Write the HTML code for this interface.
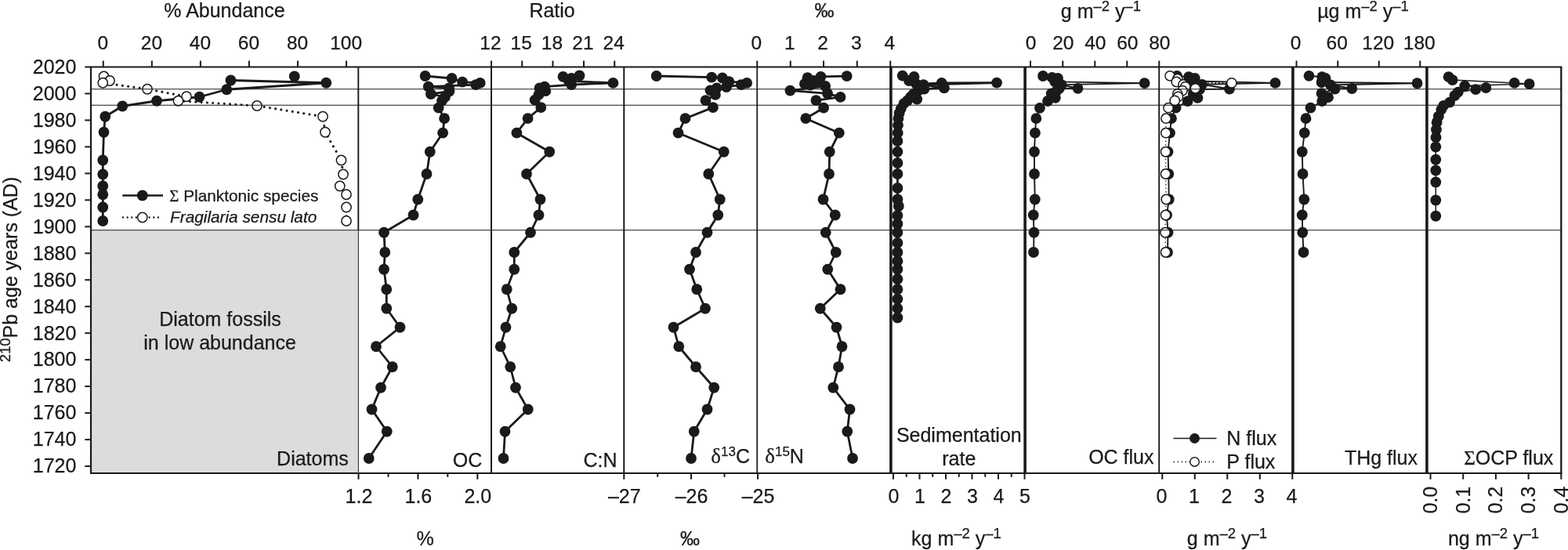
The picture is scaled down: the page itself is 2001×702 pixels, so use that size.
<!DOCTYPE html>
<html lang="en">
<head>
<meta charset="utf-8">
<title>Sediment core profiles</title>
<style>
html,body{margin:0;padding:0;background:#fff;}
body{width:2001px;height:702px;overflow:hidden;}
svg{display:block;}
svg text{stroke:#1a1a1a;stroke-width:0.25px;stroke-linejoin:round;}
</style>
</head>
<body>
<svg width="2001" height="702" viewBox="0 0 2001 702" font-family='"Liberation Sans", sans-serif' fill="#1a1a1a">
<rect x="0" y="0" width="2001" height="702" fill="#fff"/>
<rect x="116.0" y="293.75" width="341.30" height="310.15" fill="#dcdcdc"/>
<line x1="115.00" y1="85.50" x2="1993.30" y2="85.50" stroke="#1a1a1a" stroke-width="2"/>
<line x1="115.00" y1="603.90" x2="1993.30" y2="603.90" stroke="#1a1a1a" stroke-width="2"/>
<line x1="116.00" y1="85.50" x2="116.00" y2="603.90" stroke="#1a1a1a" stroke-width="2.2"/>
<line x1="1992.30" y1="85.50" x2="1992.30" y2="603.90" stroke="#1a1a1a" stroke-width="2.3"/>
<line x1="457.30" y1="85.50" x2="457.30" y2="293.75" stroke="#1a1a1a" stroke-width="1.9"/>
<line x1="457.40" y1="293.75" x2="457.40" y2="603.90" stroke="#4a4a4a" stroke-width="1.3"/>
<line x1="627.00" y1="85.50" x2="627.00" y2="603.90" stroke="#1a1a1a" stroke-width="2"/>
<line x1="796.30" y1="85.50" x2="796.30" y2="603.90" stroke="#1a1a1a" stroke-width="2"/>
<line x1="966.20" y1="85.50" x2="966.20" y2="603.90" stroke="#1a1a1a" stroke-width="1.7"/>
<line x1="1136.90" y1="85.50" x2="1136.90" y2="603.90" stroke="#1a1a1a" stroke-width="3.6"/>
<line x1="1308.10" y1="85.50" x2="1308.10" y2="603.90" stroke="#1a1a1a" stroke-width="3.6"/>
<line x1="1479.20" y1="85.50" x2="1479.20" y2="603.90" stroke="#1a1a1a" stroke-width="1.9"/>
<line x1="1649.90" y1="85.50" x2="1649.90" y2="603.90" stroke="#1a1a1a" stroke-width="3.6"/>
<line x1="1820.90" y1="85.50" x2="1820.90" y2="603.90" stroke="#1a1a1a" stroke-width="3.6"/>
<line x1="108.30" y1="595.05" x2="116.00" y2="595.05" stroke="#1a1a1a" stroke-width="2"/>
<text x="97.40" y="603.35" text-anchor="end" font-size="25">1720</text>
<line x1="108.30" y1="561.08" x2="116.00" y2="561.08" stroke="#1a1a1a" stroke-width="2"/>
<text x="97.40" y="569.38" text-anchor="end" font-size="25">1740</text>
<line x1="108.30" y1="527.11" x2="116.00" y2="527.11" stroke="#1a1a1a" stroke-width="2"/>
<text x="97.40" y="535.41" text-anchor="end" font-size="25">1760</text>
<line x1="108.30" y1="493.14" x2="116.00" y2="493.14" stroke="#1a1a1a" stroke-width="2"/>
<text x="97.40" y="501.44" text-anchor="end" font-size="25">1780</text>
<line x1="108.30" y1="459.17" x2="116.00" y2="459.17" stroke="#1a1a1a" stroke-width="2"/>
<text x="97.40" y="467.47" text-anchor="end" font-size="25">1800</text>
<line x1="108.30" y1="425.20" x2="116.00" y2="425.20" stroke="#1a1a1a" stroke-width="2"/>
<text x="97.40" y="433.50" text-anchor="end" font-size="25">1820</text>
<line x1="108.30" y1="391.23" x2="116.00" y2="391.23" stroke="#1a1a1a" stroke-width="2"/>
<text x="97.40" y="399.53" text-anchor="end" font-size="25">1840</text>
<line x1="108.30" y1="357.26" x2="116.00" y2="357.26" stroke="#1a1a1a" stroke-width="2"/>
<text x="97.40" y="365.56" text-anchor="end" font-size="25">1860</text>
<line x1="108.30" y1="323.29" x2="116.00" y2="323.29" stroke="#1a1a1a" stroke-width="2"/>
<text x="97.40" y="331.59" text-anchor="end" font-size="25">1880</text>
<line x1="108.30" y1="289.32" x2="116.00" y2="289.32" stroke="#1a1a1a" stroke-width="2"/>
<text x="97.40" y="297.62" text-anchor="end" font-size="25">1900</text>
<line x1="108.30" y1="255.35" x2="116.00" y2="255.35" stroke="#1a1a1a" stroke-width="2"/>
<text x="97.40" y="263.65" text-anchor="end" font-size="25">1920</text>
<line x1="108.30" y1="221.38" x2="116.00" y2="221.38" stroke="#1a1a1a" stroke-width="2"/>
<text x="97.40" y="229.68" text-anchor="end" font-size="25">1940</text>
<line x1="108.30" y1="187.41" x2="116.00" y2="187.41" stroke="#1a1a1a" stroke-width="2"/>
<text x="97.40" y="195.71" text-anchor="end" font-size="25">1960</text>
<line x1="108.30" y1="153.44" x2="116.00" y2="153.44" stroke="#1a1a1a" stroke-width="2"/>
<text x="97.40" y="161.74" text-anchor="end" font-size="25">1980</text>
<line x1="108.30" y1="119.47" x2="116.00" y2="119.47" stroke="#1a1a1a" stroke-width="2"/>
<text x="97.40" y="127.77" text-anchor="end" font-size="25">2000</text>
<line x1="108.30" y1="85.50" x2="116.00" y2="85.50" stroke="#1a1a1a" stroke-width="2"/>
<text x="97.40" y="93.80" text-anchor="end" font-size="25">2020</text>
<text transform="translate(21.8,462.3) rotate(-90)" font-size="25"><tspan font-size="18.5" dy="-8.5">210</tspan><tspan dy="8.5">Pb age years (AD)</tspan></text>
<line x1="131.75" y1="77.50" x2="131.75" y2="85.50" stroke="#1a1a1a" stroke-width="2"/>
<text x="131.35" y="63.30" text-anchor="middle" font-size="24.5">0</text>
<line x1="193.80" y1="77.50" x2="193.80" y2="85.50" stroke="#1a1a1a" stroke-width="2"/>
<text x="193.40" y="63.30" text-anchor="middle" font-size="24.5">20</text>
<line x1="255.85" y1="77.50" x2="255.85" y2="85.50" stroke="#1a1a1a" stroke-width="2"/>
<text x="255.45" y="63.30" text-anchor="middle" font-size="24.5">40</text>
<line x1="317.90" y1="77.50" x2="317.90" y2="85.50" stroke="#1a1a1a" stroke-width="2"/>
<text x="317.50" y="63.30" text-anchor="middle" font-size="24.5">60</text>
<line x1="379.95" y1="77.50" x2="379.95" y2="85.50" stroke="#1a1a1a" stroke-width="2"/>
<text x="379.55" y="63.30" text-anchor="middle" font-size="24.5">80</text>
<line x1="442.00" y1="77.50" x2="442.00" y2="85.50" stroke="#1a1a1a" stroke-width="2"/>
<text x="441.60" y="63.30" text-anchor="middle" font-size="24.5">100</text>
<line x1="627.00" y1="77.50" x2="627.00" y2="85.50" stroke="#1a1a1a" stroke-width="2"/>
<text x="626.00" y="63.30" text-anchor="middle" font-size="24.5">12</text>
<line x1="666.25" y1="77.50" x2="666.25" y2="85.50" stroke="#1a1a1a" stroke-width="2"/>
<text x="665.25" y="63.30" text-anchor="middle" font-size="24.5">15</text>
<line x1="705.50" y1="77.50" x2="705.50" y2="85.50" stroke="#1a1a1a" stroke-width="2"/>
<text x="704.50" y="63.30" text-anchor="middle" font-size="24.5">18</text>
<line x1="745.00" y1="77.50" x2="745.00" y2="85.50" stroke="#1a1a1a" stroke-width="2"/>
<text x="744.00" y="63.30" text-anchor="middle" font-size="24.5">21</text>
<line x1="784.25" y1="77.50" x2="784.25" y2="85.50" stroke="#1a1a1a" stroke-width="2"/>
<text x="783.25" y="63.30" text-anchor="middle" font-size="24.5">24</text>
<line x1="966.25" y1="77.50" x2="966.25" y2="85.50" stroke="#1a1a1a" stroke-width="2"/>
<text x="965.25" y="63.30" text-anchor="middle" font-size="24.5">0</text>
<line x1="1008.75" y1="77.50" x2="1008.75" y2="85.50" stroke="#1a1a1a" stroke-width="2"/>
<text x="1007.75" y="63.30" text-anchor="middle" font-size="24.5">1</text>
<line x1="1051.00" y1="77.50" x2="1051.00" y2="85.50" stroke="#1a1a1a" stroke-width="2"/>
<text x="1050.00" y="63.30" text-anchor="middle" font-size="24.5">2</text>
<line x1="1093.75" y1="77.50" x2="1093.75" y2="85.50" stroke="#1a1a1a" stroke-width="2"/>
<text x="1092.75" y="63.30" text-anchor="middle" font-size="24.5">3</text>
<line x1="1136.25" y1="77.50" x2="1136.25" y2="85.50" stroke="#1a1a1a" stroke-width="2"/>
<text x="1135.25" y="63.30" text-anchor="middle" font-size="24.5">4</text>
<line x1="1315.00" y1="77.50" x2="1315.00" y2="85.50" stroke="#1a1a1a" stroke-width="2"/>
<text x="1315.60" y="63.30" text-anchor="middle" font-size="24.5">0</text>
<line x1="1356.25" y1="77.50" x2="1356.25" y2="85.50" stroke="#1a1a1a" stroke-width="2"/>
<text x="1356.85" y="63.30" text-anchor="middle" font-size="24.5">20</text>
<line x1="1397.25" y1="77.50" x2="1397.25" y2="85.50" stroke="#1a1a1a" stroke-width="2"/>
<text x="1397.85" y="63.30" text-anchor="middle" font-size="24.5">40</text>
<line x1="1438.25" y1="77.50" x2="1438.25" y2="85.50" stroke="#1a1a1a" stroke-width="2"/>
<text x="1438.85" y="63.30" text-anchor="middle" font-size="24.5">60</text>
<line x1="1479.25" y1="77.50" x2="1479.25" y2="85.50" stroke="#1a1a1a" stroke-width="2"/>
<text x="1479.85" y="63.30" text-anchor="middle" font-size="24.5">80</text>
<line x1="1654.50" y1="77.50" x2="1654.50" y2="85.50" stroke="#1a1a1a" stroke-width="2"/>
<text x="1653.50" y="63.30" text-anchor="middle" font-size="24.5">0</text>
<line x1="1707.25" y1="77.50" x2="1707.25" y2="85.50" stroke="#1a1a1a" stroke-width="2"/>
<text x="1706.25" y="63.30" text-anchor="middle" font-size="24.5">60</text>
<line x1="1759.75" y1="77.50" x2="1759.75" y2="85.50" stroke="#1a1a1a" stroke-width="2"/>
<text x="1758.75" y="63.30" text-anchor="middle" font-size="24.5">120</text>
<line x1="1812.25" y1="77.50" x2="1812.25" y2="85.50" stroke="#1a1a1a" stroke-width="2"/>
<text x="1811.25" y="63.30" text-anchor="middle" font-size="24.5">180</text>
<line x1="457.50" y1="603.90" x2="457.50" y2="611.80" stroke="#1a1a1a" stroke-width="2"/>
<text x="458.00" y="641.50" text-anchor="middle" font-size="25">1.2</text>
<line x1="533.40" y1="603.90" x2="533.40" y2="611.80" stroke="#1a1a1a" stroke-width="2"/>
<text x="533.90" y="641.50" text-anchor="middle" font-size="25">1.6</text>
<line x1="609.30" y1="603.90" x2="609.30" y2="611.80" stroke="#1a1a1a" stroke-width="2"/>
<text x="609.80" y="641.50" text-anchor="middle" font-size="25">2.0</text>
<line x1="495.50" y1="603.90" x2="495.50" y2="608.80" stroke="#1a1a1a" stroke-width="2"/>
<line x1="571.30" y1="603.90" x2="571.30" y2="608.80" stroke="#1a1a1a" stroke-width="2"/>
<line x1="796.30" y1="603.90" x2="796.30" y2="611.80" stroke="#1a1a1a" stroke-width="2"/>
<text x="796.80" y="641.50" text-anchor="middle" font-size="25">–27</text>
<line x1="882.00" y1="603.90" x2="882.00" y2="611.80" stroke="#1a1a1a" stroke-width="2"/>
<text x="882.50" y="641.50" text-anchor="middle" font-size="25">–26</text>
<line x1="967.00" y1="603.90" x2="967.00" y2="611.80" stroke="#1a1a1a" stroke-width="2"/>
<text x="967.50" y="641.50" text-anchor="middle" font-size="25">–25</text>
<line x1="839.20" y1="603.90" x2="839.20" y2="608.80" stroke="#1a1a1a" stroke-width="2"/>
<line x1="924.50" y1="603.90" x2="924.50" y2="608.80" stroke="#1a1a1a" stroke-width="2"/>
<line x1="1140.00" y1="603.90" x2="1140.00" y2="611.80" stroke="#1a1a1a" stroke-width="2"/>
<text x="1140.50" y="641.50" text-anchor="middle" font-size="25">0</text>
<line x1="1173.50" y1="603.90" x2="1173.50" y2="611.80" stroke="#1a1a1a" stroke-width="2"/>
<text x="1174.00" y="641.50" text-anchor="middle" font-size="25">1</text>
<line x1="1207.00" y1="603.90" x2="1207.00" y2="611.80" stroke="#1a1a1a" stroke-width="2"/>
<text x="1207.50" y="641.50" text-anchor="middle" font-size="25">2</text>
<line x1="1240.50" y1="603.90" x2="1240.50" y2="611.80" stroke="#1a1a1a" stroke-width="2"/>
<text x="1241.00" y="641.50" text-anchor="middle" font-size="25">3</text>
<line x1="1274.00" y1="603.90" x2="1274.00" y2="611.80" stroke="#1a1a1a" stroke-width="2"/>
<text x="1274.50" y="641.50" text-anchor="middle" font-size="25">4</text>
<line x1="1307.50" y1="603.90" x2="1307.50" y2="611.80" stroke="#1a1a1a" stroke-width="2"/>
<text x="1308.00" y="641.50" text-anchor="middle" font-size="25">5</text>
<line x1="1156.75" y1="603.90" x2="1156.75" y2="608.80" stroke="#1a1a1a" stroke-width="2"/>
<line x1="1190.25" y1="603.90" x2="1190.25" y2="608.80" stroke="#1a1a1a" stroke-width="2"/>
<line x1="1223.75" y1="603.90" x2="1223.75" y2="608.80" stroke="#1a1a1a" stroke-width="2"/>
<line x1="1257.25" y1="603.90" x2="1257.25" y2="608.80" stroke="#1a1a1a" stroke-width="2"/>
<line x1="1290.75" y1="603.90" x2="1290.75" y2="608.80" stroke="#1a1a1a" stroke-width="2"/>
<line x1="1483.25" y1="603.90" x2="1483.25" y2="611.80" stroke="#1a1a1a" stroke-width="2"/>
<text x="1482.55" y="641.50" text-anchor="middle" font-size="25">0</text>
<line x1="1524.75" y1="603.90" x2="1524.75" y2="611.80" stroke="#1a1a1a" stroke-width="2"/>
<text x="1524.05" y="641.50" text-anchor="middle" font-size="25">1</text>
<line x1="1566.25" y1="603.90" x2="1566.25" y2="611.80" stroke="#1a1a1a" stroke-width="2"/>
<text x="1565.55" y="641.50" text-anchor="middle" font-size="25">2</text>
<line x1="1607.75" y1="603.90" x2="1607.75" y2="611.80" stroke="#1a1a1a" stroke-width="2"/>
<text x="1607.05" y="641.50" text-anchor="middle" font-size="25">3</text>
<line x1="1649.25" y1="603.90" x2="1649.25" y2="611.80" stroke="#1a1a1a" stroke-width="2"/>
<text x="1648.55" y="641.50" text-anchor="middle" font-size="25">4</text>
<line x1="1825.50" y1="603.90" x2="1825.50" y2="611.80" stroke="#1a1a1a" stroke-width="2"/>
<line x1="1867.20" y1="603.90" x2="1867.20" y2="611.80" stroke="#1a1a1a" stroke-width="2"/>
<line x1="1908.90" y1="603.90" x2="1908.90" y2="611.80" stroke="#1a1a1a" stroke-width="2"/>
<line x1="1950.60" y1="603.90" x2="1950.60" y2="611.80" stroke="#1a1a1a" stroke-width="2"/>
<line x1="1992.30" y1="603.90" x2="1992.30" y2="611.80" stroke="#1a1a1a" stroke-width="2"/>
<text transform="translate(1833.90,655.6) rotate(-90)" font-size="25">0.0</text>
<text transform="translate(1875.60,655.6) rotate(-90)" font-size="25">0.1</text>
<text transform="translate(1917.30,655.6) rotate(-90)" font-size="25">0.2</text>
<text transform="translate(1959.00,655.6) rotate(-90)" font-size="25">0.3</text>
<text transform="translate(2000.70,655.6) rotate(-90)" font-size="25">0.4</text>
<text x="286.50" y="22.00" text-anchor="middle" font-size="25">% Abundance</text>
<text x="704.60" y="22.00" text-anchor="middle" font-size="25">Ratio</text>
<text x="1052.00" y="22.00" text-anchor="middle" font-size="25">‰</text>
<text x="1405.00" y="23.00" text-anchor="middle" font-size="25">g m<tspan font-size="18.5" dy="-9.2">–2</tspan><tspan dy="9.2"> y</tspan><tspan font-size="18.5" dy="-9.2">–1</tspan></text>
<text x="1739.50" y="23.00" text-anchor="middle" font-size="25">µg m<tspan font-size="18.5" dy="-9.2">–2</tspan><tspan dy="9.2"> y</tspan><tspan font-size="18.5" dy="-9.2">–1</tspan></text>
<text x="542.50" y="696.00" text-anchor="middle" font-size="25">%</text>
<text x="880.50" y="696.00" text-anchor="middle" font-size="25">‰</text>
<text x="1220.50" y="695.80" text-anchor="middle" font-size="25">kg m<tspan font-size="18.5" dy="-9.2">–2</tspan><tspan dy="9.2"> y</tspan><tspan font-size="18.5" dy="-9.2">–1</tspan></text>
<text x="1566.00" y="695.80" text-anchor="middle" font-size="25">g m<tspan font-size="18.5" dy="-9.2">–2</tspan><tspan dy="9.2"> y</tspan><tspan font-size="18.5" dy="-9.2">–1</tspan></text>
<text x="1906.00" y="695.80" text-anchor="middle" font-size="25">ng m<tspan font-size="18.5" dy="-9.2">–2</tspan><tspan dy="9.2"> y</tspan><tspan font-size="18.5" dy="-9.2">–1</tspan></text>
<text x="444.80" y="594.00" text-anchor="end" font-size="25">Diatoms</text>
<text x="615.30" y="596.30" text-anchor="end" font-size="25">OC</text>
<text x="787.60" y="596.00" text-anchor="end" font-size="25">C:N</text>
<text x="907.3" y="591.2" font-size="25"><tspan font-family='"Liberation Serif", serif' font-size="27">δ</tspan><tspan font-size="17" dy="-9.5">13</tspan><tspan dy="9.5">C</tspan></text>
<text x="976.2" y="591.2" font-size="25"><tspan font-family='"Liberation Serif", serif' font-size="27">δ</tspan><tspan font-size="17" dy="-9.5">15</tspan><tspan dy="9.5">N</tspan></text>
<text x="1223.80" y="563.80" text-anchor="middle" font-size="25">Sedimentation</text>
<text x="1223.80" y="593.80" text-anchor="middle" font-size="25">rate</text>
<text x="1472.50" y="592.30" text-anchor="end" font-size="25">OC flux</text>
<text x="1809.00" y="593.20" text-anchor="end" font-size="25">THg flux</text>
<text x="1982.3" y="592.5" font-size="25" text-anchor="end"><tspan font-family='"Liberation Serif", serif'>Σ</tspan>OCP flux</text>
<text x="281.00" y="415.50" text-anchor="middle" font-size="25">Diatom fossils</text>
<text x="280.60" y="445.50" text-anchor="middle" font-size="25">in low abundance</text>
<line x1="156.30" y1="249.50" x2="208.00" y2="249.50" stroke="#1a1a1a" stroke-width="2.6"/>
<circle cx="181.75" cy="249.50" r="6.90" fill="#1a1a1a"/>
<text x="216.3" y="257" font-size="20.8"><tspan font-family='"Liberation Serif", serif'>Σ</tspan> Planktonic species</text>
<line x1="157.00" y1="277.50" x2="203.00" y2="277.50" stroke="#1a1a1a" stroke-width="2.4" stroke-dasharray="0.01 5.6" stroke-linecap="round"/>
<circle cx="181.75" cy="277.50" r="6.15" fill="#fff" stroke="#1a1a1a" stroke-width="1.5"/>
<text x="217" y="284" font-size="20.8" font-style="italic">Fragilaria sensu lato</text>
<line x1="1497.50" y1="559.50" x2="1552.50" y2="559.50" stroke="#1a1a1a" stroke-width="1.3"/>
<circle cx="1524.50" cy="559.50" r="6.50" fill="#1a1a1a"/>
<text x="1565.30" y="568.00" text-anchor="start" font-size="25">N flux</text>
<line x1="1497.50" y1="589.50" x2="1552.50" y2="589.50" stroke="#1a1a1a" stroke-width="1.3" stroke-dasharray="1.5 3.5"/>
<circle cx="1524.50" cy="589.50" r="5.75" fill="#fff" stroke="#1a1a1a" stroke-width="1.5"/>
<text x="1565.30" y="598.30" text-anchor="start" font-size="25">P flux</text>
<polyline points="132.50,97.50 140.00,103.00 131.25,105.75 188.00,113.75 238.00,123.25 227.50,128.75 328.00,135.00 412.00,148.75 415.00,168.75 435.50,204.50 438.00,222.50 433.75,237.50 442.00,248.25 442.00,264.50 442.00,282.00" fill="none" stroke="#1a1a1a" stroke-width="3.1" stroke-linejoin="round" stroke-dasharray="0.01 7.3" stroke-linecap="round"/>
<polyline points="294.50,102.50 416.25,105.75 289.25,114.25 254.50,123.75 200.00,128.75 156.25,135.50 134.25,148.75 132.50,168.75 131.25,204.50 131.25,222.50 131.25,237.50 131.25,248.25 131.25,264.50 131.25,282.00" fill="none" stroke="#1a1a1a" stroke-width="2.8" stroke-linejoin="round"/>
<circle cx="375.75" cy="97.50" r="6.90" fill="#1a1a1a"/>
<circle cx="294.50" cy="102.50" r="6.90" fill="#1a1a1a"/>
<circle cx="416.25" cy="105.75" r="6.90" fill="#1a1a1a"/>
<circle cx="289.25" cy="114.25" r="6.90" fill="#1a1a1a"/>
<circle cx="254.50" cy="123.75" r="6.90" fill="#1a1a1a"/>
<circle cx="200.00" cy="128.75" r="6.90" fill="#1a1a1a"/>
<circle cx="156.25" cy="135.50" r="6.90" fill="#1a1a1a"/>
<circle cx="134.25" cy="148.75" r="6.90" fill="#1a1a1a"/>
<circle cx="132.50" cy="168.75" r="6.90" fill="#1a1a1a"/>
<circle cx="131.25" cy="204.50" r="6.90" fill="#1a1a1a"/>
<circle cx="131.25" cy="222.50" r="6.90" fill="#1a1a1a"/>
<circle cx="131.25" cy="237.50" r="6.90" fill="#1a1a1a"/>
<circle cx="131.25" cy="248.25" r="6.90" fill="#1a1a1a"/>
<circle cx="131.25" cy="264.50" r="6.90" fill="#1a1a1a"/>
<circle cx="131.25" cy="282.00" r="6.90" fill="#1a1a1a"/>
<circle cx="132.50" cy="97.50" r="6.15" fill="#fff" stroke="#1a1a1a" stroke-width="1.5"/>
<circle cx="140.00" cy="103.00" r="6.15" fill="#fff" stroke="#1a1a1a" stroke-width="1.5"/>
<circle cx="131.25" cy="105.75" r="6.15" fill="#fff" stroke="#1a1a1a" stroke-width="1.5"/>
<circle cx="188.00" cy="113.75" r="6.15" fill="#fff" stroke="#1a1a1a" stroke-width="1.5"/>
<circle cx="238.00" cy="123.25" r="6.15" fill="#fff" stroke="#1a1a1a" stroke-width="1.5"/>
<circle cx="227.50" cy="128.75" r="6.15" fill="#fff" stroke="#1a1a1a" stroke-width="1.5"/>
<circle cx="328.00" cy="135.00" r="6.15" fill="#fff" stroke="#1a1a1a" stroke-width="1.5"/>
<circle cx="412.00" cy="148.75" r="6.15" fill="#fff" stroke="#1a1a1a" stroke-width="1.5"/>
<circle cx="415.00" cy="168.75" r="6.15" fill="#fff" stroke="#1a1a1a" stroke-width="1.5"/>
<circle cx="435.50" cy="204.50" r="6.15" fill="#fff" stroke="#1a1a1a" stroke-width="1.5"/>
<circle cx="438.00" cy="222.50" r="6.15" fill="#fff" stroke="#1a1a1a" stroke-width="1.5"/>
<circle cx="433.75" cy="237.50" r="6.15" fill="#fff" stroke="#1a1a1a" stroke-width="1.5"/>
<circle cx="442.00" cy="248.25" r="6.15" fill="#fff" stroke="#1a1a1a" stroke-width="1.5"/>
<circle cx="442.00" cy="264.50" r="6.15" fill="#fff" stroke="#1a1a1a" stroke-width="1.5"/>
<circle cx="442.00" cy="282.00" r="6.15" fill="#fff" stroke="#1a1a1a" stroke-width="1.5"/>
<polyline points="542.60,97.00 576.60,100.00 590.10,104.70 612.70,105.90 607.20,108.10 546.70,110.60 573.00,112.40 573.40,116.60 549.90,120.00 567.90,123.90 564.00,128.60 559.70,137.60 567.10,151.20 565.10,169.70 548.75,193.75 544.50,222.00 533.25,254.50 527.50,274.50 490.00,296.75 491.25,322.00 490.00,343.75 493.25,369.25 493.25,393.75 510.50,417.75 480.00,442.25 500.75,468.25 486.00,494.75 474.50,522.50 493.75,550.75 470.75,585.00" fill="none" stroke="#1a1a1a" stroke-width="2.8" stroke-linejoin="round"/>
<circle cx="542.60" cy="97.00" r="6.90" fill="#1a1a1a"/>
<circle cx="576.60" cy="100.00" r="6.90" fill="#1a1a1a"/>
<circle cx="590.10" cy="104.70" r="6.90" fill="#1a1a1a"/>
<circle cx="612.70" cy="105.90" r="6.90" fill="#1a1a1a"/>
<circle cx="607.20" cy="108.10" r="6.90" fill="#1a1a1a"/>
<circle cx="546.70" cy="110.60" r="6.90" fill="#1a1a1a"/>
<circle cx="573.00" cy="112.40" r="6.90" fill="#1a1a1a"/>
<circle cx="573.40" cy="116.60" r="6.90" fill="#1a1a1a"/>
<circle cx="549.90" cy="120.00" r="6.90" fill="#1a1a1a"/>
<circle cx="567.90" cy="123.90" r="6.90" fill="#1a1a1a"/>
<circle cx="564.00" cy="128.60" r="6.90" fill="#1a1a1a"/>
<circle cx="559.70" cy="137.60" r="6.90" fill="#1a1a1a"/>
<circle cx="567.10" cy="151.20" r="6.90" fill="#1a1a1a"/>
<circle cx="565.10" cy="169.70" r="6.90" fill="#1a1a1a"/>
<circle cx="548.75" cy="193.75" r="6.90" fill="#1a1a1a"/>
<circle cx="544.50" cy="222.00" r="6.90" fill="#1a1a1a"/>
<circle cx="533.25" cy="254.50" r="6.90" fill="#1a1a1a"/>
<circle cx="527.50" cy="274.50" r="6.90" fill="#1a1a1a"/>
<circle cx="490.00" cy="296.75" r="6.90" fill="#1a1a1a"/>
<circle cx="491.25" cy="322.00" r="6.90" fill="#1a1a1a"/>
<circle cx="490.00" cy="343.75" r="6.90" fill="#1a1a1a"/>
<circle cx="493.25" cy="369.25" r="6.90" fill="#1a1a1a"/>
<circle cx="493.25" cy="393.75" r="6.90" fill="#1a1a1a"/>
<circle cx="510.50" cy="417.75" r="6.90" fill="#1a1a1a"/>
<circle cx="480.00" cy="442.25" r="6.90" fill="#1a1a1a"/>
<circle cx="500.75" cy="468.25" r="6.90" fill="#1a1a1a"/>
<circle cx="486.00" cy="494.75" r="6.90" fill="#1a1a1a"/>
<circle cx="474.50" cy="522.50" r="6.90" fill="#1a1a1a"/>
<circle cx="493.75" cy="550.75" r="6.90" fill="#1a1a1a"/>
<circle cx="470.75" cy="585.00" r="6.90" fill="#1a1a1a"/>
<polyline points="739.50,96.50 718.50,97.80 729.20,100.00 725.80,103.40 782.40,105.90 729.20,108.10 695.00,110.60 688.60,112.40 696.30,116.20 687.40,120.90 682.60,127.70 690.30,137.10 673.60,151.20 659.40,169.70 701.25,193.75 672.00,222.00 689.50,254.50 687.50,274.50 677.00,296.75 656.25,322.00 656.25,343.75 646.75,369.25 653.25,393.75 645.50,417.75 638.75,442.25 651.25,468.25 658.00,494.75 673.75,522.50 644.50,550.75 642.50,585.00" fill="none" stroke="#1a1a1a" stroke-width="2.8" stroke-linejoin="round"/>
<circle cx="739.50" cy="96.50" r="6.90" fill="#1a1a1a"/>
<circle cx="718.50" cy="97.80" r="6.90" fill="#1a1a1a"/>
<circle cx="729.20" cy="100.00" r="6.90" fill="#1a1a1a"/>
<circle cx="725.80" cy="103.40" r="6.90" fill="#1a1a1a"/>
<circle cx="782.40" cy="105.90" r="6.90" fill="#1a1a1a"/>
<circle cx="729.20" cy="108.10" r="6.90" fill="#1a1a1a"/>
<circle cx="695.00" cy="110.60" r="6.90" fill="#1a1a1a"/>
<circle cx="688.60" cy="112.40" r="6.90" fill="#1a1a1a"/>
<circle cx="696.30" cy="116.20" r="6.90" fill="#1a1a1a"/>
<circle cx="687.40" cy="120.90" r="6.90" fill="#1a1a1a"/>
<circle cx="682.60" cy="127.70" r="6.90" fill="#1a1a1a"/>
<circle cx="690.30" cy="137.10" r="6.90" fill="#1a1a1a"/>
<circle cx="673.60" cy="151.20" r="6.90" fill="#1a1a1a"/>
<circle cx="659.40" cy="169.70" r="6.90" fill="#1a1a1a"/>
<circle cx="701.25" cy="193.75" r="6.90" fill="#1a1a1a"/>
<circle cx="672.00" cy="222.00" r="6.90" fill="#1a1a1a"/>
<circle cx="689.50" cy="254.50" r="6.90" fill="#1a1a1a"/>
<circle cx="687.50" cy="274.50" r="6.90" fill="#1a1a1a"/>
<circle cx="677.00" cy="296.75" r="6.90" fill="#1a1a1a"/>
<circle cx="656.25" cy="322.00" r="6.90" fill="#1a1a1a"/>
<circle cx="656.25" cy="343.75" r="6.90" fill="#1a1a1a"/>
<circle cx="646.75" cy="369.25" r="6.90" fill="#1a1a1a"/>
<circle cx="653.25" cy="393.75" r="6.90" fill="#1a1a1a"/>
<circle cx="645.50" cy="417.75" r="6.90" fill="#1a1a1a"/>
<circle cx="638.75" cy="442.25" r="6.90" fill="#1a1a1a"/>
<circle cx="651.25" cy="468.25" r="6.90" fill="#1a1a1a"/>
<circle cx="658.00" cy="494.75" r="6.90" fill="#1a1a1a"/>
<circle cx="673.75" cy="522.50" r="6.90" fill="#1a1a1a"/>
<circle cx="644.50" cy="550.75" r="6.90" fill="#1a1a1a"/>
<circle cx="642.50" cy="585.00" r="6.90" fill="#1a1a1a"/>
<polyline points="837.70,97.00 908.20,98.70 921.90,99.50 930.40,104.20 953.10,105.90 945.80,108.10 927.00,111.10 914.60,112.40 906.50,115.30 912.90,120.90 900.50,128.20 909.90,137.10 874.50,151.20 865.50,169.70 923.75,193.75 904.25,222.00 918.75,254.50 916.25,274.50 902.50,296.75 888.00,322.00 880.00,343.75 889.25,369.25 900.00,393.75 859.50,417.75 866.25,442.25 888.00,468.25 911.25,494.75 902.50,522.50 885.75,550.75 882.00,585.00" fill="none" stroke="#1a1a1a" stroke-width="2.8" stroke-linejoin="round"/>
<circle cx="837.70" cy="97.00" r="6.90" fill="#1a1a1a"/>
<circle cx="908.20" cy="98.70" r="6.90" fill="#1a1a1a"/>
<circle cx="921.90" cy="99.50" r="6.90" fill="#1a1a1a"/>
<circle cx="930.40" cy="104.20" r="6.90" fill="#1a1a1a"/>
<circle cx="953.10" cy="105.90" r="6.90" fill="#1a1a1a"/>
<circle cx="945.80" cy="108.10" r="6.90" fill="#1a1a1a"/>
<circle cx="927.00" cy="111.10" r="6.90" fill="#1a1a1a"/>
<circle cx="914.60" cy="112.40" r="6.90" fill="#1a1a1a"/>
<circle cx="906.50" cy="115.30" r="6.90" fill="#1a1a1a"/>
<circle cx="912.90" cy="120.90" r="6.90" fill="#1a1a1a"/>
<circle cx="900.50" cy="128.20" r="6.90" fill="#1a1a1a"/>
<circle cx="909.90" cy="137.10" r="6.90" fill="#1a1a1a"/>
<circle cx="874.50" cy="151.20" r="6.90" fill="#1a1a1a"/>
<circle cx="865.50" cy="169.70" r="6.90" fill="#1a1a1a"/>
<circle cx="923.75" cy="193.75" r="6.90" fill="#1a1a1a"/>
<circle cx="904.25" cy="222.00" r="6.90" fill="#1a1a1a"/>
<circle cx="918.75" cy="254.50" r="6.90" fill="#1a1a1a"/>
<circle cx="916.25" cy="274.50" r="6.90" fill="#1a1a1a"/>
<circle cx="902.50" cy="296.75" r="6.90" fill="#1a1a1a"/>
<circle cx="888.00" cy="322.00" r="6.90" fill="#1a1a1a"/>
<circle cx="880.00" cy="343.75" r="6.90" fill="#1a1a1a"/>
<circle cx="889.25" cy="369.25" r="6.90" fill="#1a1a1a"/>
<circle cx="900.00" cy="393.75" r="6.90" fill="#1a1a1a"/>
<circle cx="859.50" cy="417.75" r="6.90" fill="#1a1a1a"/>
<circle cx="866.25" cy="442.25" r="6.90" fill="#1a1a1a"/>
<circle cx="888.00" cy="468.25" r="6.90" fill="#1a1a1a"/>
<circle cx="911.25" cy="494.75" r="6.90" fill="#1a1a1a"/>
<circle cx="902.50" cy="522.50" r="6.90" fill="#1a1a1a"/>
<circle cx="885.75" cy="550.75" r="6.90" fill="#1a1a1a"/>
<circle cx="882.00" cy="585.00" r="6.90" fill="#1a1a1a"/>
<polyline points="1080.70,97.10 1047.50,97.80 1030.50,99.20 1038.30,102.80 1046.00,104.80 1026.90,107.00 1034.00,108.50 1053.20,110.00 1008.40,115.60 1056.00,119.30 1072.50,123.90 1041.40,128.10 1051.10,137.70 1028.30,151.20 1070.80,169.70 1058.75,193.75 1058.00,222.00 1050.50,254.50 1065.75,274.50 1053.75,296.75 1066.75,322.00 1056.25,343.75 1072.50,369.25 1046.75,393.75 1067.50,417.75 1074.50,442.25 1070.00,468.25 1063.25,494.75 1084.50,522.50 1081.25,550.75 1088.00,585.00" fill="none" stroke="#1a1a1a" stroke-width="2.8" stroke-linejoin="round"/>
<circle cx="1080.70" cy="97.10" r="6.90" fill="#1a1a1a"/>
<circle cx="1047.50" cy="97.80" r="6.90" fill="#1a1a1a"/>
<circle cx="1030.50" cy="99.20" r="6.90" fill="#1a1a1a"/>
<circle cx="1038.30" cy="102.80" r="6.90" fill="#1a1a1a"/>
<circle cx="1046.00" cy="104.80" r="6.90" fill="#1a1a1a"/>
<circle cx="1026.90" cy="107.00" r="6.90" fill="#1a1a1a"/>
<circle cx="1034.00" cy="108.50" r="6.90" fill="#1a1a1a"/>
<circle cx="1053.20" cy="110.00" r="6.90" fill="#1a1a1a"/>
<circle cx="1008.40" cy="115.60" r="6.90" fill="#1a1a1a"/>
<circle cx="1056.00" cy="119.30" r="6.90" fill="#1a1a1a"/>
<circle cx="1072.50" cy="123.90" r="6.90" fill="#1a1a1a"/>
<circle cx="1041.40" cy="128.10" r="6.90" fill="#1a1a1a"/>
<circle cx="1051.10" cy="137.70" r="6.90" fill="#1a1a1a"/>
<circle cx="1028.30" cy="151.20" r="6.90" fill="#1a1a1a"/>
<circle cx="1070.80" cy="169.70" r="6.90" fill="#1a1a1a"/>
<circle cx="1058.75" cy="193.75" r="6.90" fill="#1a1a1a"/>
<circle cx="1058.00" cy="222.00" r="6.90" fill="#1a1a1a"/>
<circle cx="1050.50" cy="254.50" r="6.90" fill="#1a1a1a"/>
<circle cx="1065.75" cy="274.50" r="6.90" fill="#1a1a1a"/>
<circle cx="1053.75" cy="296.75" r="6.90" fill="#1a1a1a"/>
<circle cx="1066.75" cy="322.00" r="6.90" fill="#1a1a1a"/>
<circle cx="1056.25" cy="343.75" r="6.90" fill="#1a1a1a"/>
<circle cx="1072.50" cy="369.25" r="6.90" fill="#1a1a1a"/>
<circle cx="1046.75" cy="393.75" r="6.90" fill="#1a1a1a"/>
<circle cx="1067.50" cy="417.75" r="6.90" fill="#1a1a1a"/>
<circle cx="1074.50" cy="442.25" r="6.90" fill="#1a1a1a"/>
<circle cx="1070.00" cy="468.25" r="6.90" fill="#1a1a1a"/>
<circle cx="1063.25" cy="494.75" r="6.90" fill="#1a1a1a"/>
<circle cx="1084.50" cy="522.50" r="6.90" fill="#1a1a1a"/>
<circle cx="1081.25" cy="550.75" r="6.90" fill="#1a1a1a"/>
<circle cx="1088.00" cy="585.00" r="6.90" fill="#1a1a1a"/>
<polyline points="1151.70,96.60 1166.50,98.00 1160.00,103.00 1169.50,107.50 1201.70,105.80 1272.00,105.60 1178.50,108.10 1204.90,112.30 1179.40,113.70 1172.00,115.60 1165.60,120.20 1161.90,123.90 1170.20,126.70 1158.00,128.50 1153.50,132.20 1149.80,138.70 1147.60,144.50 1146.40,151.20 1146.00,159.80 1145.70,169.70 1145.40,180.00 1145.40,193.75 1145.40,208.00 1145.40,222.00 1145.40,240.00 1145.40,254.50 1146.80,263.00 1145.40,275.00 1145.40,285.75 1145.40,296.75 1145.40,310.00 1145.40,322.00 1145.40,333.25 1145.40,343.75 1145.40,356.25 1145.40,369.25 1145.40,381.75 1145.40,393.75 1145.40,405.50" fill="none" stroke="#1a1a1a" stroke-width="2.8" stroke-linejoin="round"/>
<circle cx="1151.70" cy="96.60" r="6.90" fill="#1a1a1a"/>
<circle cx="1166.50" cy="98.00" r="6.90" fill="#1a1a1a"/>
<circle cx="1160.00" cy="103.00" r="6.90" fill="#1a1a1a"/>
<circle cx="1169.50" cy="107.50" r="6.90" fill="#1a1a1a"/>
<circle cx="1201.70" cy="105.80" r="6.90" fill="#1a1a1a"/>
<circle cx="1272.00" cy="105.60" r="6.90" fill="#1a1a1a"/>
<circle cx="1178.50" cy="108.10" r="6.90" fill="#1a1a1a"/>
<circle cx="1204.90" cy="112.30" r="6.90" fill="#1a1a1a"/>
<circle cx="1179.40" cy="113.70" r="6.90" fill="#1a1a1a"/>
<circle cx="1172.00" cy="115.60" r="6.90" fill="#1a1a1a"/>
<circle cx="1165.60" cy="120.20" r="6.90" fill="#1a1a1a"/>
<circle cx="1161.90" cy="123.90" r="6.90" fill="#1a1a1a"/>
<circle cx="1170.20" cy="126.70" r="6.90" fill="#1a1a1a"/>
<circle cx="1158.00" cy="128.50" r="6.90" fill="#1a1a1a"/>
<circle cx="1153.50" cy="132.20" r="6.90" fill="#1a1a1a"/>
<circle cx="1149.80" cy="138.70" r="6.90" fill="#1a1a1a"/>
<circle cx="1147.60" cy="144.50" r="6.90" fill="#1a1a1a"/>
<circle cx="1146.40" cy="151.20" r="6.90" fill="#1a1a1a"/>
<circle cx="1146.00" cy="159.80" r="6.90" fill="#1a1a1a"/>
<circle cx="1145.70" cy="169.70" r="6.90" fill="#1a1a1a"/>
<circle cx="1145.40" cy="180.00" r="6.90" fill="#1a1a1a"/>
<circle cx="1145.40" cy="193.75" r="6.90" fill="#1a1a1a"/>
<circle cx="1145.40" cy="208.00" r="6.90" fill="#1a1a1a"/>
<circle cx="1145.40" cy="222.00" r="6.90" fill="#1a1a1a"/>
<circle cx="1145.40" cy="240.00" r="6.90" fill="#1a1a1a"/>
<circle cx="1145.40" cy="254.50" r="6.90" fill="#1a1a1a"/>
<circle cx="1146.80" cy="263.00" r="6.90" fill="#1a1a1a"/>
<circle cx="1145.40" cy="275.00" r="6.90" fill="#1a1a1a"/>
<circle cx="1145.40" cy="285.75" r="6.90" fill="#1a1a1a"/>
<circle cx="1145.40" cy="296.75" r="6.90" fill="#1a1a1a"/>
<circle cx="1145.40" cy="310.00" r="6.90" fill="#1a1a1a"/>
<circle cx="1145.40" cy="322.00" r="6.90" fill="#1a1a1a"/>
<circle cx="1145.40" cy="333.25" r="6.90" fill="#1a1a1a"/>
<circle cx="1145.40" cy="343.75" r="6.90" fill="#1a1a1a"/>
<circle cx="1145.40" cy="356.25" r="6.90" fill="#1a1a1a"/>
<circle cx="1145.40" cy="369.25" r="6.90" fill="#1a1a1a"/>
<circle cx="1145.40" cy="381.75" r="6.90" fill="#1a1a1a"/>
<circle cx="1145.40" cy="393.75" r="6.90" fill="#1a1a1a"/>
<circle cx="1145.40" cy="405.50" r="6.90" fill="#1a1a1a"/>
<polyline points="1331.00,97.00 1342.60,98.90 1350.00,99.80 1346.30,104.40 1460.60,106.10 1354.60,108.10 1375.50,112.80 1351.90,112.80 1348.10,116.50 1341.70,119.30 1346.80,124.80 1337.00,129.00 1326.90,137.80 1322.30,151.20 1320.90,169.70 1320.00,193.75 1320.00,222.00 1320.75,254.50 1318.75,274.50 1319.50,296.75 1319.00,322.00" fill="none" stroke="#1a1a1a" stroke-width="1.9" stroke-linejoin="round"/>
<circle cx="1331.00" cy="97.00" r="6.90" fill="#1a1a1a"/>
<circle cx="1342.60" cy="98.90" r="6.90" fill="#1a1a1a"/>
<circle cx="1350.00" cy="99.80" r="6.90" fill="#1a1a1a"/>
<circle cx="1346.30" cy="104.40" r="6.90" fill="#1a1a1a"/>
<circle cx="1460.60" cy="106.10" r="6.90" fill="#1a1a1a"/>
<circle cx="1354.60" cy="108.10" r="6.90" fill="#1a1a1a"/>
<circle cx="1375.50" cy="112.80" r="6.90" fill="#1a1a1a"/>
<circle cx="1351.90" cy="112.80" r="6.90" fill="#1a1a1a"/>
<circle cx="1348.10" cy="116.50" r="6.90" fill="#1a1a1a"/>
<circle cx="1341.70" cy="119.30" r="6.90" fill="#1a1a1a"/>
<circle cx="1346.80" cy="124.80" r="6.90" fill="#1a1a1a"/>
<circle cx="1337.00" cy="129.00" r="6.90" fill="#1a1a1a"/>
<circle cx="1326.90" cy="137.80" r="6.90" fill="#1a1a1a"/>
<circle cx="1322.30" cy="151.20" r="6.90" fill="#1a1a1a"/>
<circle cx="1320.90" cy="169.70" r="6.90" fill="#1a1a1a"/>
<circle cx="1320.00" cy="193.75" r="6.90" fill="#1a1a1a"/>
<circle cx="1320.00" cy="222.00" r="6.90" fill="#1a1a1a"/>
<circle cx="1320.75" cy="254.50" r="6.90" fill="#1a1a1a"/>
<circle cx="1318.75" cy="274.50" r="6.90" fill="#1a1a1a"/>
<circle cx="1319.50" cy="296.75" r="6.90" fill="#1a1a1a"/>
<circle cx="1319.00" cy="322.00" r="6.90" fill="#1a1a1a"/>
<polyline points="1670.50,96.80 1687.20,98.20 1691.50,100.00 1686.50,105.00 1808.50,106.25 1697.90,108.50 1725.25,113.00 1703.60,113.50 1686.50,119.20 1695.00,124.20 1687.20,129.10 1672.50,137.70 1666.50,151.20 1664.70,169.70 1661.75,193.75 1662.50,222.00 1664.25,254.50 1661.75,274.50 1662.25,296.75 1663.50,322.00" fill="none" stroke="#1a1a1a" stroke-width="1.9" stroke-linejoin="round"/>
<circle cx="1670.50" cy="96.80" r="6.90" fill="#1a1a1a"/>
<circle cx="1687.20" cy="98.20" r="6.90" fill="#1a1a1a"/>
<circle cx="1691.50" cy="100.00" r="6.90" fill="#1a1a1a"/>
<circle cx="1686.50" cy="105.00" r="6.90" fill="#1a1a1a"/>
<circle cx="1808.50" cy="106.25" r="6.90" fill="#1a1a1a"/>
<circle cx="1697.90" cy="108.50" r="6.90" fill="#1a1a1a"/>
<circle cx="1725.25" cy="113.00" r="6.90" fill="#1a1a1a"/>
<circle cx="1703.60" cy="113.50" r="6.90" fill="#1a1a1a"/>
<circle cx="1686.50" cy="119.20" r="6.90" fill="#1a1a1a"/>
<circle cx="1695.00" cy="124.20" r="6.90" fill="#1a1a1a"/>
<circle cx="1687.20" cy="129.10" r="6.90" fill="#1a1a1a"/>
<circle cx="1672.50" cy="137.70" r="6.90" fill="#1a1a1a"/>
<circle cx="1666.50" cy="151.20" r="6.90" fill="#1a1a1a"/>
<circle cx="1664.70" cy="169.70" r="6.90" fill="#1a1a1a"/>
<circle cx="1661.75" cy="193.75" r="6.90" fill="#1a1a1a"/>
<circle cx="1662.50" cy="222.00" r="6.90" fill="#1a1a1a"/>
<circle cx="1664.25" cy="254.50" r="6.90" fill="#1a1a1a"/>
<circle cx="1661.75" cy="274.50" r="6.90" fill="#1a1a1a"/>
<circle cx="1662.25" cy="296.75" r="6.90" fill="#1a1a1a"/>
<circle cx="1663.50" cy="322.00" r="6.90" fill="#1a1a1a"/>
<polyline points="1848.60,98.20 1853.60,102.10 1932.60,105.90 1951.60,107.10 1869.20,109.60 1896.30,112.00 1883.20,114.20 1860.70,117.70 1856.40,122.00 1850.00,130.60 1842.20,134.80 1839.30,139.80 1835.80,148.40 1833.60,156.20 1832.90,165.50 1832.50,175.40 1832.25,187.50 1832.25,203.75 1832.25,217.50 1832.25,232.50 1832.25,255.50 1832.25,275.75" fill="none" stroke="#1a1a1a" stroke-width="1.5" stroke-linejoin="round"/>
<circle cx="1848.60" cy="98.20" r="6.90" fill="#1a1a1a"/>
<circle cx="1853.60" cy="102.10" r="6.90" fill="#1a1a1a"/>
<circle cx="1932.60" cy="105.90" r="6.90" fill="#1a1a1a"/>
<circle cx="1951.60" cy="107.10" r="6.90" fill="#1a1a1a"/>
<circle cx="1869.20" cy="109.60" r="6.90" fill="#1a1a1a"/>
<circle cx="1896.30" cy="112.00" r="6.90" fill="#1a1a1a"/>
<circle cx="1883.20" cy="114.20" r="6.90" fill="#1a1a1a"/>
<circle cx="1860.70" cy="117.70" r="6.90" fill="#1a1a1a"/>
<circle cx="1856.40" cy="122.00" r="6.90" fill="#1a1a1a"/>
<circle cx="1850.00" cy="130.60" r="6.90" fill="#1a1a1a"/>
<circle cx="1842.20" cy="134.80" r="6.90" fill="#1a1a1a"/>
<circle cx="1839.30" cy="139.80" r="6.90" fill="#1a1a1a"/>
<circle cx="1835.80" cy="148.40" r="6.90" fill="#1a1a1a"/>
<circle cx="1833.60" cy="156.20" r="6.90" fill="#1a1a1a"/>
<circle cx="1832.90" cy="165.50" r="6.90" fill="#1a1a1a"/>
<circle cx="1832.50" cy="175.40" r="6.90" fill="#1a1a1a"/>
<circle cx="1832.25" cy="187.50" r="6.90" fill="#1a1a1a"/>
<circle cx="1832.25" cy="203.75" r="6.90" fill="#1a1a1a"/>
<circle cx="1832.25" cy="217.50" r="6.90" fill="#1a1a1a"/>
<circle cx="1832.25" cy="232.50" r="6.90" fill="#1a1a1a"/>
<circle cx="1832.25" cy="255.50" r="6.90" fill="#1a1a1a"/>
<circle cx="1832.25" cy="275.75" r="6.90" fill="#1a1a1a"/>
<polyline points="1502.00,96.80 1517.00,98.20 1524.80,100.00 1521.00,103.50 1627.40,105.90 1534.00,107.80 1569.00,113.50 1531.00,114.00 1522.70,119.90 1528.40,124.90 1515.60,129.10 1500.60,137.70 1494.90,151.20 1493.00,169.70 1490.50,193.75 1491.25,222.00 1491.75,254.50 1489.00,274.50 1490.50,296.75 1490.00,322.00" fill="none" stroke="#1a1a1a" stroke-width="1.9" stroke-linejoin="round"/>
<circle cx="1502.00" cy="96.80" r="6.90" fill="#1a1a1a"/>
<circle cx="1517.00" cy="98.20" r="6.90" fill="#1a1a1a"/>
<circle cx="1524.80" cy="100.00" r="6.90" fill="#1a1a1a"/>
<circle cx="1521.00" cy="103.50" r="6.90" fill="#1a1a1a"/>
<circle cx="1627.40" cy="105.90" r="6.90" fill="#1a1a1a"/>
<circle cx="1534.00" cy="107.80" r="6.90" fill="#1a1a1a"/>
<circle cx="1569.00" cy="113.50" r="6.90" fill="#1a1a1a"/>
<circle cx="1531.00" cy="114.00" r="6.90" fill="#1a1a1a"/>
<circle cx="1522.70" cy="119.90" r="6.90" fill="#1a1a1a"/>
<circle cx="1528.40" cy="124.90" r="6.90" fill="#1a1a1a"/>
<circle cx="1515.60" cy="129.10" r="6.90" fill="#1a1a1a"/>
<circle cx="1500.60" cy="137.70" r="6.90" fill="#1a1a1a"/>
<circle cx="1494.90" cy="151.20" r="6.90" fill="#1a1a1a"/>
<circle cx="1493.00" cy="169.70" r="6.90" fill="#1a1a1a"/>
<circle cx="1490.50" cy="193.75" r="6.90" fill="#1a1a1a"/>
<circle cx="1491.25" cy="222.00" r="6.90" fill="#1a1a1a"/>
<circle cx="1491.75" cy="254.50" r="6.90" fill="#1a1a1a"/>
<circle cx="1489.00" cy="274.50" r="6.90" fill="#1a1a1a"/>
<circle cx="1490.50" cy="296.75" r="6.90" fill="#1a1a1a"/>
<circle cx="1490.00" cy="322.00" r="6.90" fill="#1a1a1a"/>
<polyline points="1493.00,96.80 1502.70,100.70 1501.30,104.50 1571.80,105.90 1510.00,107.80 1512.70,110.60 1525.50,112.80 1509.00,115.60 1502.70,119.90 1503.40,123.40 1499.20,128.40 1491.00,137.70 1488.00,151.20 1487.80,169.70 1487.50,193.75 1487.50,222.00 1488.25,254.50 1487.50,274.50 1487.00,296.75 1487.50,322.00" fill="none" stroke="#1a1a1a" stroke-width="1.6" stroke-linejoin="round" stroke-dasharray="0.01 4.6" stroke-linecap="round"/>
<circle cx="1493.00" cy="96.80" r="6.15" fill="#fff" stroke="#1a1a1a" stroke-width="1.5"/>
<circle cx="1502.70" cy="100.70" r="6.15" fill="#fff" stroke="#1a1a1a" stroke-width="1.5"/>
<circle cx="1501.30" cy="104.50" r="6.15" fill="#fff" stroke="#1a1a1a" stroke-width="1.5"/>
<circle cx="1571.80" cy="105.90" r="6.15" fill="#fff" stroke="#1a1a1a" stroke-width="1.5"/>
<circle cx="1510.00" cy="107.80" r="6.15" fill="#fff" stroke="#1a1a1a" stroke-width="1.5"/>
<circle cx="1512.70" cy="110.60" r="6.15" fill="#fff" stroke="#1a1a1a" stroke-width="1.5"/>
<circle cx="1525.50" cy="112.80" r="6.15" fill="#fff" stroke="#1a1a1a" stroke-width="1.5"/>
<circle cx="1509.00" cy="115.60" r="6.15" fill="#fff" stroke="#1a1a1a" stroke-width="1.5"/>
<circle cx="1502.70" cy="119.90" r="6.15" fill="#fff" stroke="#1a1a1a" stroke-width="1.5"/>
<circle cx="1503.40" cy="123.40" r="6.15" fill="#fff" stroke="#1a1a1a" stroke-width="1.5"/>
<circle cx="1499.20" cy="128.40" r="6.15" fill="#fff" stroke="#1a1a1a" stroke-width="1.5"/>
<circle cx="1491.00" cy="137.70" r="6.15" fill="#fff" stroke="#1a1a1a" stroke-width="1.5"/>
<circle cx="1488.00" cy="151.20" r="6.15" fill="#fff" stroke="#1a1a1a" stroke-width="1.5"/>
<circle cx="1487.80" cy="169.70" r="6.15" fill="#fff" stroke="#1a1a1a" stroke-width="1.5"/>
<circle cx="1487.50" cy="193.75" r="6.15" fill="#fff" stroke="#1a1a1a" stroke-width="1.5"/>
<circle cx="1487.50" cy="222.00" r="6.15" fill="#fff" stroke="#1a1a1a" stroke-width="1.5"/>
<circle cx="1488.25" cy="254.50" r="6.15" fill="#fff" stroke="#1a1a1a" stroke-width="1.5"/>
<circle cx="1487.50" cy="274.50" r="6.15" fill="#fff" stroke="#1a1a1a" stroke-width="1.5"/>
<circle cx="1487.00" cy="296.75" r="6.15" fill="#fff" stroke="#1a1a1a" stroke-width="1.5"/>
<circle cx="1487.50" cy="322.00" r="6.15" fill="#fff" stroke="#1a1a1a" stroke-width="1.5"/>
<line x1="116.00" y1="113.75" x2="1992.30" y2="113.75" stroke="#1a1a1a" stroke-width="1.1"/>
<line x1="116.00" y1="134.25" x2="1992.30" y2="134.25" stroke="#1a1a1a" stroke-width="1.1"/>
<line x1="116.00" y1="293.75" x2="1992.30" y2="293.75" stroke="#1a1a1a" stroke-width="1.1"/>
</svg>
</body>
</html>
